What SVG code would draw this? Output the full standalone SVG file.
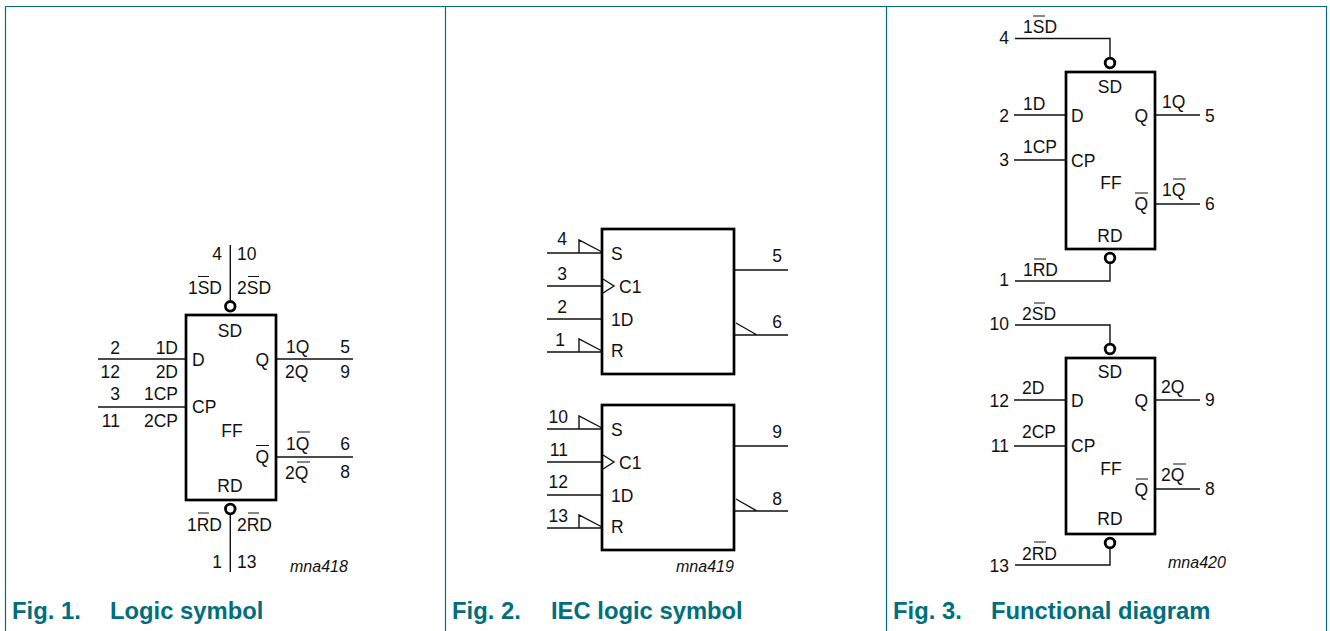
<svg xmlns="http://www.w3.org/2000/svg" width="1330" height="631" viewBox="0 0 1330 631">
<style>
text{font-family:"Liberation Sans",Arial,sans-serif;font-size:17.5px;fill:#111}
.e{text-anchor:end}.m{text-anchor:middle}
.code{font-style:italic;font-size:16px}
.cap{font-weight:bold;font-size:23.8px;fill:#006f7d}
.frame{stroke:#006f7d;stroke-width:1.2;fill:none}
.box{fill:none;stroke:#000;stroke-width:2.7}
.w{fill:none;stroke:#111;stroke-width:1.4}
.bub{fill:#fff;stroke:#000;stroke-width:2.8}
.bar{stroke:#111;stroke-width:1.2}
</style>
<rect width="1330" height="631" fill="#fff"/>
<g id="frame">
<path class="frame" d="M5.5 631V6.5H1326.5V631M445.5 6.5V631M886.5 6.5V631"/>
</g>
<g id="connectors">
<path class="w" d="M230.3 245V301M230.3 515V572M98 359H186M98 407H186M276 359H353M276 457H353"/>
<path class="w" d="M547 253H602M579 253V240L602 252M547 286H603M603 279L614 286L603 293M547 319H602M547 352H602M579 352V339L602 351M734 270H788M734 335H788M736 323L757 335"/>
<path class="w" d="M547 429H602M579 429V416L602 428M547 462H603M603 455L614 462L603 469M547 495H602M547 528H602M579 528V515L602 527M734 446H788M734 511H788M736 499L757 511"/>
<path class="w" d="M1015 38.5H1110V57M1014 115H1066M1014 160H1066M1155 115H1200M1155 204H1200M1015 281H1110V264"/>
<path class="w" d="M1015 325H1110V343M1014 400H1066M1014 446H1066M1155 400H1200M1155 489H1200M1015 565H1110V549"/>
</g>
<g id="fig1-ff">
<rect class="box" x="186" y="315" width="90" height="185"/>
<circle class="bub" cx="230.3" cy="306.3" r="4.8"/>
<circle class="bub" cx="230.3" cy="509" r="4.8"/>
<text class="e" x="222" y="260">4</text><text x="237" y="260">10</text>
<text class="e" x="222" y="294">1SD</text><text x="237" y="294">2SD</text>
<path class="bar" d="M198 276.5H209M248 276.5H259M256 445.5H269M297 432H310M297 462H310M198 513H209M248 513H259"/>
<text class="m" x="230" y="337">SD</text>
<text class="e" x="120" y="353.500">2</text><text class="e" x="178" y="353.500">1D</text>
<text class="e" x="120" y="378">12</text><text class="e" x="178" y="378">2D</text>
<text class="e" x="120" y="400">3</text><text class="e" x="178" y="400">1CP</text>
<text class="e" x="120" y="427">11</text><text class="e" x="178" y="427">2CP</text>
<text x="192" y="366">D</text><text x="192" y="413">CP</text>
<text class="e" x="269" y="366">Q</text><text class="e" x="269" y="463">Q</text>
<text x="286" y="353">1Q</text><text class="e" x="350" y="353">5</text>
<text x="285" y="378">2Q</text><text class="e" x="350" y="378">9</text>
<text x="286" y="450">1Q</text><text class="e" x="350" y="450">6</text>
<text x="285" y="479">2Q</text><text class="e" x="350" y="478">8</text>
<text class="m" x="232" y="437">FF</text>
<text class="m" x="230" y="492">RD</text>
<text class="e" x="222" y="531">1RD</text><text x="237" y="531">2RD</text>
<text class="e" x="222" y="568">1</text><text x="237" y="568">13</text>
<text class="code" x="290" y="572">mna418</text>
</g>
<g id="fig2-ff1">
<rect class="box" x="602" y="229" width="132" height="145"/>
<text class="e" x="567" y="245">4</text><text class="e" x="567" y="280">3</text><text class="e" x="567" y="313">2</text><text class="e" x="565" y="346">1</text>
<text x="611" y="259.500">S</text><text x="619" y="293">C1</text><text x="611" y="326">1D</text><text x="611" y="357">R</text>
<text class="e" x="782" y="262">5</text><text class="e" x="782" y="328">6</text>
</g>
<g id="fig2-ff2">
<rect class="box" x="602" y="405" width="132" height="145"/>
<text class="e" x="568" y="423">10</text><text class="e" x="568" y="456">11</text><text class="e" x="568" y="488">12</text><text class="e" x="568" y="522">13</text>
<text x="611" y="435.500">S</text><text x="619" y="469">C1</text><text x="611" y="502">1D</text><text x="611" y="533">R</text>
<text class="e" x="782" y="438">9</text><text class="e" x="782" y="505">8</text>
<text class="code" x="676" y="572">mna419</text>
</g>
<g id="fig3-ff1">
<rect class="box" x="1066" y="72" width="89" height="177"/>
<circle class="bub" cx="1110" cy="63" r="4.8"/>
<circle class="bub" cx="1110" cy="258" r="4.8"/>
<path class="bar" d="M1033 16H1045M1135 193H1148M1173 179H1186M1034 259H1046"/>
<text class="e" x="1009" y="44">4</text><text x="1023" y="33">1SD</text>
<text class="m" x="1110" y="93">SD</text>
<text class="e" x="1009" y="122">2</text><text x="1023" y="110">1D</text>
<text x="1071" y="122">D</text><text class="e" x="1148" y="122">Q</text>
<text x="1162" y="108">1Q</text><text x="1205" y="122">5</text>
<text class="e" x="1009" y="166">3</text><text x="1023" y="153">1CP</text><text x="1071" y="167">CP</text>
<text class="m" x="1111" y="189">FF</text>
<text class="e" x="1148" y="210">Q</text><text x="1162" y="196">1Q</text><text x="1205" y="210">6</text>
<text class="m" x="1110" y="242">RD</text>
<text class="e" x="1009" y="286">1</text><text x="1023" y="276">1RD</text>
</g>
<g id="fig3-ff2">
<rect class="box" x="1066" y="358" width="89" height="176"/>
<circle class="bub" cx="1110" cy="349" r="4.8"/>
<circle class="bub" cx="1110" cy="543" r="4.8"/>
<path class="bar" d="M1034 303H1045M1173 464H1186M1136 479H1148M1034 542H1046"/>
<text class="e" x="1009" y="330">10</text><text x="1022" y="320">2SD</text>
<text class="m" x="1110" y="378">SD</text>
<text class="e" x="1009" y="407">12</text><text x="1022" y="394">2D</text>
<text x="1071" y="407">D</text><text class="e" x="1148" y="407">Q</text>
<text x="1161" y="393">2Q</text><text x="1205" y="406">9</text>
<text class="e" x="1009" y="452">11</text><text x="1022" y="438">2CP</text><text x="1071" y="452">CP</text>
<text class="m" x="1111" y="475">FF</text>
<text class="e" x="1148" y="496">Q</text><text x="1161" y="481">2Q</text><text x="1205" y="495">8</text>
<text class="m" x="1110" y="525">RD</text>
<text class="e" x="1009" y="572">13</text><text x="1022" y="560">2RD</text>
<text class="code" x="1168" y="568">mna420</text>
</g>
<g id="captions">
<text class="cap" x="12" y="618.500">Fig. 1.</text><text class="cap" x="110" y="618.500">Logic symbol</text>
<text class="cap" x="452" y="618.500">Fig. 2.</text><text class="cap" x="551" y="618.500">IEC logic symbol</text>
<text class="cap" x="893" y="618.500">Fig. 3.</text><text class="cap" x="991" y="618.500">Functional diagram</text>
</g>
</svg>
